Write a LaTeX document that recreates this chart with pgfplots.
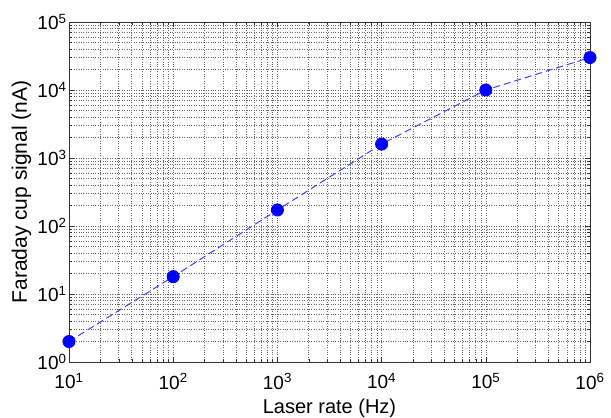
\documentclass[border=0pt]{standalone}
\usepackage{pgfplots}
\pgfplotsset{compat=1.18}
\usepackage{fontspec}
\setmainfont{Liberation Sans}
\begin{document}
\begin{tikzpicture}[x=1pt,y=1pt]
\path[use as bounding box] (-69,-56) rectangle (542,362);
\begin{axis}[
  at={(0,0)}, anchor=south west,
  scale only axis, width=521pt, height=340pt,
  xmode=log, ymode=log,
  xmin=10, xmax=1e6, ymin=1, ymax=1e5,
  xtick={10,100,1000,10000,100000,1000000},
  xticklabels={10\textsuperscript{1},10\textsuperscript{2},10\textsuperscript{3},10\textsuperscript{4},10\textsuperscript{5},10\textsuperscript{6}},
  ytick={1,10,100,1000,10000,100000},
  yticklabels={10\textsuperscript{0},10\textsuperscript{1},10\textsuperscript{2},10\textsuperscript{3},10\textsuperscript{4},10\textsuperscript{5}},
  tick label style={font=\fontsize{19}{21}\selectfont},
  xticklabel style={yshift=-8pt},
  yticklabel style={xshift=1pt},
  tick align=inside,
  major tick length=5pt, minor tick length=3pt,
  grid=both,
  major grid style={black!60, dotted, line width=0.6pt},
  minor grid style={black!60, dotted, line width=0.6pt},
  axis line style={black!80, line width=0.7pt},
  every tick/.style={black!80},
  xlabel={Laser rate (Hz)},
  ylabel={Faraday cup signal (nA)},
  xlabel style={font=\fontsize{20}{22}\selectfont, at={([yshift=-51pt]axis description cs:0.5,0)}, anchor=base},
  ylabel style={font=\fontsize{21}{23}\selectfont, at={([xshift=-42pt]axis description cs:0,0.5)}, anchor=base, rotate=0},
]
\addplot[blue!75!white, line width=1pt, dash pattern=on 7pt off 4pt,
  mark=*, mark size=6pt, mark options={solid, fill=blue, draw=blue}]
  coordinates {(10,2) (100,18) (1000,172) (10000,1600) (100000,10000) (1000000,30000)};
\end{axis}
\end{tikzpicture}
\end{document}
